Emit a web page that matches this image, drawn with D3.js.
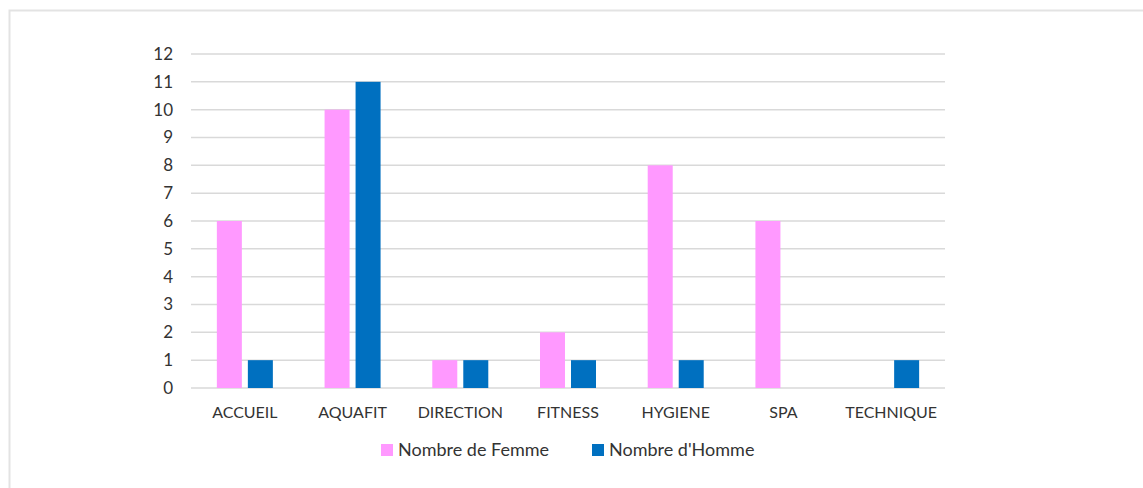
<!DOCTYPE html>
<html>
<head>
<meta charset="utf-8">
<script src="https://cdn.jsdelivr.net/npm/d3@7"></script>
<style>
  body { margin: 0; background: #fff; }
  svg { display: block; }
  text { font-family: Lato, "Liberation Sans", sans-serif; fill: #333; }
</style>
</head>
<body>
<svg id="chart"></svg>
<script>
// Chart data
const categories = ["ACCUEIL", "AQUAFIT", "DIRECTION", "FITNESS", "HYGIENE", "SPA", "TECHNIQUE"];
const seriesNames = ["Nombre de Femme", "Nombre d'Homme"];
const femmes = [6, 10, 1, 2, 8, 6, 0];
const hommes = [1, 11, 1, 1, 1, 0, 1];
const yTicks = [0, 1, 2, 3, 4, 5, 6, 7, 8, 9, 10, 11, 12];
const colors = ["#ff99ff", "#0070c0"];

const W = 1143, H = 488;
const plot = { left: 191, right: 945, top: 54, bottom: 388 };

const svg = d3.select("#chart").attr("width", W).attr("height", H);

// outer frame (only top and left edges visible in the crop)
svg.append("rect")
  .attr("x", 9.5).attr("y", 10.5)
  .attr("width", W + 20).attr("height", H + 20)
  .attr("fill", "none")
  .attr("stroke", "#e3e3e3")
  .attr("stroke-width", 2);

const x = d3.scaleBand()
  .domain(categories)
  .range([plot.left, plot.right])
  .padding(0);

const xs = d3.scaleBand()
  .domain(seriesNames)
  .range([0, x.bandwidth()])
  .paddingInner(6 / 31)
  .paddingOuter(0.834);

const y = d3.scaleLinear()
  .domain([0, 12])
  .range([plot.bottom, plot.top]);

// gridlines
svg.append("g")
  .selectAll("line")
  .data(yTicks)
  .enter()
  .append("line")
  .attr("x1", plot.left).attr("x2", plot.right)
  .attr("y1", d => y(d)).attr("y2", d => y(d))
  .attr("stroke", "#d9d9d9")
  .attr("stroke-width", 1.5);

// y labels
svg.append("g")
  .selectAll("text")
  .data(yTicks)
  .enter()
  .append("text")
  .attr("x", 173)
  .attr("y", d => y(d))
  .attr("dy", "0.35em")
  .attr("text-anchor", "end")
  .style("font-size", "17px")
  .text(d => d);

// bars
const rows = categories.map((c, i) => ({ cat: c, values: [femmes[i], hommes[i]] }));

const groups = svg.append("g")
  .selectAll("g")
  .data(rows)
  .enter()
  .append("g")
  .attr("transform", d => `translate(${x(d.cat)},0)`);

groups.selectAll("rect")
  .data(d => d.values.map((v, j) => ({ name: seriesNames[j], value: v, j })))
  .enter()
  .append("rect")
  .attr("x", d => xs(d.name))
  .attr("width", xs.bandwidth())
  .attr("y", d => y(d.value))
  .attr("height", d => y(0) - y(d.value))
  .attr("fill", d => colors[d.j]);

// category labels
svg.append("g")
  .selectAll("text")
  .data(categories)
  .enter()
  .append("text")
  .attr("x", d => x(d) + x.bandwidth() / 2)
  .attr("y", 412)
  .attr("dy", "0.35em")
  .attr("text-anchor", "middle")
  .style("font-size", "16px")
  .text(d => d);

// legend
const legendX = [381, 592];
const legend = svg.append("g")
  .selectAll("g")
  .data(seriesNames)
  .enter()
  .append("g")
  .attr("transform", (d, i) => `translate(${legendX[i]},450)`);

legend.append("rect")
  .attr("x", 0).attr("y", -6)
  .attr("width", 12).attr("height", 12)
  .attr("fill", (d, i) => colors[i]);

legend.append("text")
  .attr("x", 17)
  .attr("dy", "0.35em")
  .style("font-size", "18px")
  .text(d => d);
</script>
</body>
</html>
